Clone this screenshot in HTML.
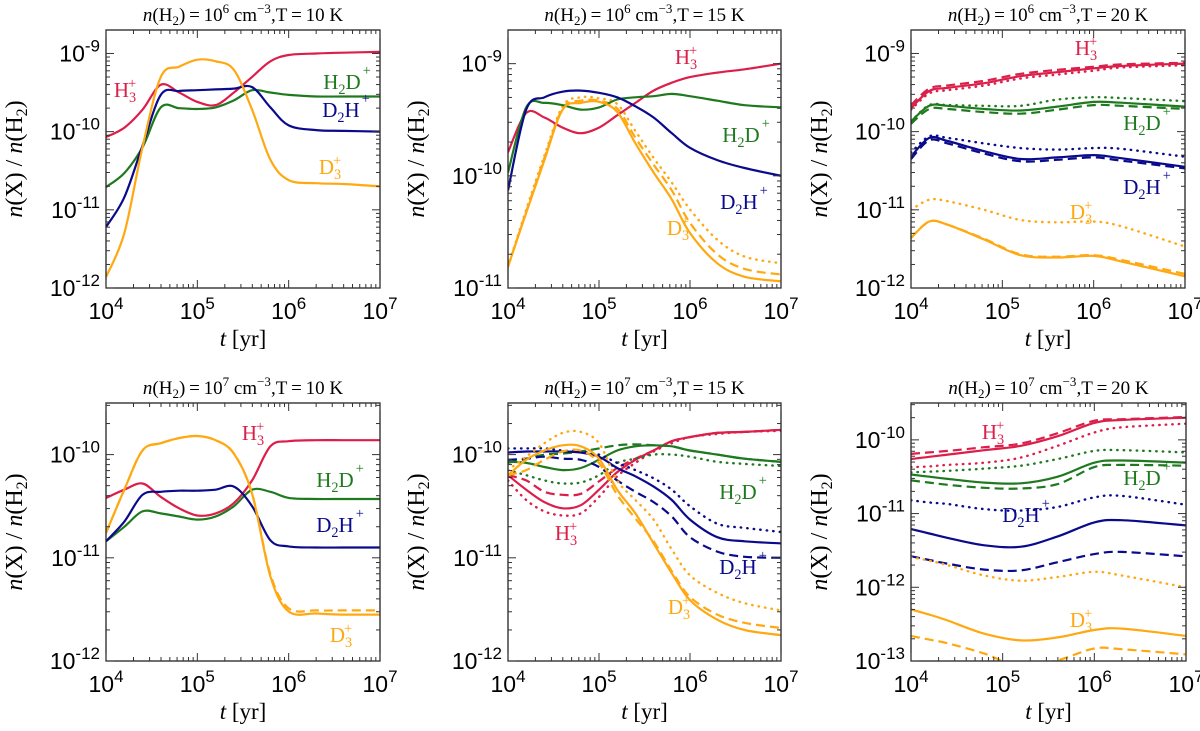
<!DOCTYPE html>
<html><head><meta charset="utf-8"><style>
html,body{margin:0;padding:0;background:#fff;}
svg{display:block;}
</style></head><body>
<svg id="chart" width="1200" height="731" viewBox="0 0 1200 731" xmlns="http://www.w3.org/2000/svg"></svg>
<script>
// ---- shared time grids (log10 t [yr]) ----
const logTFine = [4,4.2,4.4,4.6,4.8,5,5.2,5.4,5.6,5.8,6,6.3,6.6,7];
const logTCoarse = [4,4.2,4.4,4.8,5.2,5.6,6,6.3,7];

// ---- panel 1: n=1e6, T=10 K (log10 abundance) ----
const p1H3 = [-10.07,-9.95,-9.72,-9.4,-9.5,-9.62,-9.66,-9.5,-9.3,-9.1,-9.02,-9.0,-8.99,-8.98];
const p1H2D = [-10.71,-10.53,-10.2,-9.69,-9.7,-9.71,-9.69,-9.6,-9.47,-9.5,-9.53,-9.55,-9.55,-9.55];
const p1D2H = [-11.22,-10.84,-10.18,-9.53,-9.48,-9.47,-9.46,-9.45,-9.43,-9.69,-9.92,-9.98,-9.99,-10.0];
const p1D3 = [-11.86,-11.3,-10.2,-9.3,-9.17,-9.08,-9.1,-9.21,-9.72,-10.36,-10.62,-10.66,-10.67,-10.7];

// ---- panel 2: n=1e6, T=15 K ----
const p2H3 = [-9.79,-9.44,-9.48,-9.57,-9.62,-9.57,-9.46,-9.35,-9.24,-9.17,-9.12,-9.08,-9.05,-9.0];
const p2H2D = [-9.97,-9.39,-9.35,-9.37,-9.41,-9.39,-9.32,-9.3,-9.29,-9.27,-9.29,-9.33,-9.37,-9.39];
const p2D2H = [-10.13,-9.41,-9.3,-9.25,-9.24,-9.26,-9.3,-9.38,-9.48,-9.62,-9.75,-9.86,-9.93,-10.0];
const p2D3 = [-10.81,-10.33,-9.86,-9.41,-9.35,-9.34,-9.43,-9.71,-9.97,-10.21,-10.51,-10.78,-10.9,-10.94];
const p2D3Dash = [-10.81,-10.32,-9.84,-9.4,-9.33,-9.33,-9.4,-9.66,-9.9,-10.13,-10.42,-10.7,-10.83,-10.88];
const p2D3Dot = [-10.81,-10.3,-9.82,-9.38,-9.3,-9.31,-9.36,-9.6,-9.84,-10.06,-10.3,-10.57,-10.72,-10.78];

// ---- panel 3: n=1e6, T=20 K ----
const p3H3 = [-9.7,-9.48,-9.44,-9.38,-9.29,-9.24,-9.19,-9.16,-9.13];
const p3H3Dash = [-9.66,-9.45,-9.41,-9.35,-9.26,-9.21,-9.17,-9.14,-9.12];
const p3H3Dot = [-9.72,-9.51,-9.47,-9.41,-9.32,-9.27,-9.22,-9.18,-9.15];
const p3H2D = [-9.87,-9.67,-9.67,-9.71,-9.73,-9.68,-9.62,-9.63,-9.68];
const p3H2DDash = [-9.9,-9.71,-9.71,-9.75,-9.77,-9.72,-9.66,-9.67,-9.71];
const p3H2DDot = [-9.87,-9.66,-9.66,-9.67,-9.67,-9.59,-9.56,-9.57,-9.61];
const p3D2H = [-10.32,-10.08,-10.12,-10.25,-10.35,-10.33,-10.3,-10.34,-10.45];
const p3D2HDash = [-10.35,-10.11,-10.15,-10.28,-10.38,-10.36,-10.33,-10.37,-10.47];
const p3D2HDot = [-10.27,-10.06,-10.08,-10.15,-10.21,-10.23,-10.21,-10.22,-10.32];
const p3D3 = [-11.36,-11.15,-11.19,-11.38,-11.58,-11.61,-11.59,-11.66,-11.85];
const p3D3Dash = [-11.36,-11.15,-11.19,-11.37,-11.57,-11.6,-11.58,-11.64,-11.82];
const p3D3Dot = [-11.0,-10.87,-10.89,-11.0,-11.13,-11.16,-11.15,-11.21,-11.47];

// ---- panel 4: n=1e7, T=10 K ----
const p4H3 = [-10.42,-10.34,-10.28,-10.41,-10.52,-10.59,-10.57,-10.47,-10.25,-9.92,-9.87,-9.86,-9.86,-9.86];
const p4H2D = [-10.84,-10.7,-10.55,-10.57,-10.6,-10.63,-10.6,-10.5,-10.34,-10.36,-10.42,-10.43,-10.43,-10.43];
const p4D2H = [-10.84,-10.65,-10.39,-10.36,-10.35,-10.35,-10.34,-10.31,-10.5,-10.83,-10.89,-10.9,-10.9,-10.9];
const p4D3 = [-10.76,-10.34,-9.96,-9.89,-9.84,-9.82,-9.86,-9.99,-10.38,-11.18,-11.52,-11.54,-11.55,-11.55];
const p4D3Dash = [-10.76,-10.34,-9.96,-9.89,-9.84,-9.82,-9.86,-9.99,-10.38,-11.16,-11.49,-11.51,-11.51,-11.51];

// ---- panel 5: n=1e7, T=15 K ----
const p5H3 = [-10.2,-10.34,-10.46,-10.52,-10.49,-10.34,-10.17,-10.05,-9.96,-9.87,-9.83,-9.79,-9.78,-9.76];
const p5H3Dash = [-10.2,-10.25,-10.36,-10.39,-10.38,-10.26,-10.13,-10.04,-9.96,-9.87,-9.83,-9.79,-9.78,-9.76];
const p5H3Dot = [-10.25,-10.44,-10.55,-10.59,-10.57,-10.41,-10.21,-10.08,-9.97,-9.89,-9.83,-9.8,-9.78,-9.77];
const p5H2D = [-10.07,-10.08,-10.12,-10.15,-10.13,-10.05,-9.96,-9.92,-9.91,-9.92,-9.96,-10.0,-10.04,-10.07];
const p5H2DDash = [-10.08,-10.04,-10.0,-9.99,-9.97,-9.94,-9.91,-9.9,-9.91,-9.92,-9.96,-10.0,-10.04,-10.07];
const p5H2DDot = [-10.15,-10.2,-10.25,-10.28,-10.27,-10.2,-10.08,-10.04,-10.0,-10.0,-10.02,-10.07,-10.09,-10.11];
const p5D2H = [-9.98,-9.97,-9.97,-9.97,-9.98,-10.02,-10.13,-10.21,-10.31,-10.44,-10.63,-10.8,-10.84,-10.86];
const p5D2HDash = [-10.05,-10.04,-10.02,-10.04,-10.05,-10.12,-10.25,-10.36,-10.46,-10.6,-10.8,-10.94,-10.99,-11.0];
const p5D2HDot = [-9.94,-9.94,-9.94,-9.96,-9.97,-10.0,-10.08,-10.15,-10.23,-10.34,-10.5,-10.67,-10.71,-10.75];
const p5D3 = [-10.2,-10.05,-9.96,-9.91,-9.92,-10.04,-10.34,-10.57,-10.86,-11.15,-11.41,-11.6,-11.7,-11.75];
const p5D3Dash = [-10.2,-10.15,-10.05,-9.97,-9.96,-10.08,-10.39,-10.62,-10.84,-11.13,-11.38,-11.55,-11.63,-11.68];
const p5D3Dot = [-10.15,-10.02,-9.89,-9.79,-9.78,-9.89,-10.25,-10.44,-10.63,-10.92,-11.17,-11.34,-11.44,-11.51];

// ---- panel 6: n=1e7, T=20 K ----
const p6H3 = [-10.26,-10.23,-10.2,-10.14,-10.08,-9.95,-9.77,-9.73,-9.7];
const p6H3Dash = [-10.19,-10.17,-10.15,-10.1,-10.05,-9.91,-9.74,-9.72,-9.69];
const p6H3Dot = [-10.37,-10.36,-10.34,-10.31,-10.24,-10.08,-9.9,-9.83,-9.78];
const p6H2D = [-10.47,-10.5,-10.53,-10.58,-10.59,-10.5,-10.31,-10.28,-10.31];
const p6H2DDash = [-10.55,-10.58,-10.61,-10.65,-10.66,-10.6,-10.37,-10.34,-10.35];
const p6H2DDot = [-10.44,-10.43,-10.42,-10.39,-10.35,-10.26,-10.15,-10.14,-10.17];
const p6D2H = [-11.21,-11.27,-11.33,-11.43,-11.45,-11.31,-11.12,-11.09,-11.16];
const p6D2HDash = [-11.58,-11.63,-11.68,-11.76,-11.77,-11.66,-11.55,-11.52,-11.58];
const p6D2HDot = [-10.82,-10.85,-10.87,-10.94,-10.96,-10.91,-10.78,-10.76,-10.88];
const p6D3 = [-12.3,-12.37,-12.45,-12.63,-12.72,-12.68,-12.58,-12.56,-12.66];
const p6D3Dash = [-12.66,-12.71,-12.76,-12.9,-13.08,-12.99,-12.83,-12.84,-12.91];
const p6D3Dot = [-11.59,-11.64,-11.7,-11.84,-11.91,-11.86,-11.79,-11.84,-12.0];

// ---- ticks ----
const xTickExps = [4,5,6,7];
const densityExps = [6,6,6,7,7,7];
const temps = [10,15,20,10,15,20];

const COL = {H3:'#dc1e4a', H2D:'#1f7a1f', D2H:'#0a0a8c', D3:'#ffa812'};
const SVGNS = 'http://www.w3.org/2000/svg';
const svg = document.getElementById('chart');
function mk(tag, attrs, parent){
  const e = document.createElementNS(SVGNS, tag);
  for (const k in attrs) e.setAttribute(k, attrs[k]);
  (parent||svg).appendChild(e);
  return e;
}

const panels = [
  {x0:106,x1:380,y0:30,y1:288,ymin:-12,ymax:-8.7,t:logTFine,series:[
    ['h3',p1H3,'H3','s'],['h2d',p1H2D,'H2D','s'],['d2h',p1D2H,'D2H','s'],['d3',p1D3,'D3','s']],
   labels:[['H3',125,97],['H2D',347,89],['D2H',346,117],['D3',330,174]]},
  {x0:508,x1:781,y0:30,y1:288,ymin:-11,ymax:-8.7,t:logTFine,series:[
    ['d3-dot',p2D3Dot,'D3','d'],['d3-dash',p2D3Dash,'D3','a'],
    ['h3',p2H3,'H3','s'],['h2d',p2H2D,'H2D','s'],['d2h',p2D2H,'D2H','s'],['d3',p2D3,'D3','s']],
   labels:[['H3',686,64],['H2D',746,142],['D2H',744,209],['D3',678,235]]},
  {x0:911,x1:1185,y0:30,y1:288,ymin:-12,ymax:-8.7,t:logTCoarse,series:[
    ['h3-dot',p3H3Dot,'H3','d'],['h3-dash',p3H3Dash,'H3','a'],['h3',p3H3,'H3','s'],
    ['h2d-dot',p3H2DDot,'H2D','d'],['h2d-dash',p3H2DDash,'H2D','a'],['h2d',p3H2D,'H2D','s'],
    ['d2h-dot',p3D2HDot,'D2H','d'],['d2h-dash',p3D2HDash,'D2H','a'],['d2h',p3D2H,'D2H','s'],
    ['d3-dot',p3D3Dot,'D3','d'],['d3-dash',p3D3Dash,'D3','a'],['d3',p3D3,'D3','s']],
   labels:[['H3',1086,55],['H2D',1147,130],['D2H',1147,194],['D3',1081,219]]},
  {x0:106,x1:380,y0:403,y1:661,ymin:-12,ymax:-9.5,t:logTFine,series:[
    ['d3-dash',p4D3Dash,'D3','a'],
    ['h3',p4H3,'H3','s'],['h2d',p4H2D,'H2D','s'],['d2h',p4D2H,'D2H','s'],['d3',p4D3,'D3','s']],
   labels:[['H3',253,440],['H2D',340,487],['D2H',340,532],['D3',341,642]]},
  {x0:508,x1:781,y0:403,y1:661,ymin:-12,ymax:-9.5,t:logTFine,series:[
    ['h3-dot',p5H3Dot,'H3','d'],['h3-dash',p5H3Dash,'H3','a'],['h3',p5H3,'H3','s'],
    ['h2d-dot',p5H2DDot,'H2D','d'],['h2d-dash',p5H2DDash,'H2D','a'],['h2d',p5H2D,'H2D','s'],
    ['d2h-dot',p5D2HDot,'D2H','d'],['d2h-dash',p5D2HDash,'D2H','a'],['d2h',p5D2H,'D2H','s'],
    ['d3-dot',p5D3Dot,'D3','d'],['d3-dash',p5D3Dash,'D3','a'],['d3',p5D3,'D3','s']],
   labels:[['H3',566,540],['H2D',743,499],['D2H',743,574],['D3',679,614]]},
  {x0:911,x1:1186,y0:403,y1:661,ymin:-13,ymax:-9.5,t:logTCoarse,series:[
    ['h3-dot',p6H3Dot,'H3','d'],['h3-dash',p6H3Dash,'H3','a'],['h3',p6H3,'H3','s'],
    ['h2d-dot',p6H2DDot,'H2D','d'],['h2d-dash',p6H2DDash,'H2D','a'],['h2d',p6H2D,'H2D','s'],
    ['d2h-dot',p6D2HDot,'D2H','d'],['d2h-dash',p6D2HDash,'D2H','a'],['d2h',p6D2H,'D2H','s'],
    ['d3-dot',p6D3Dot,'D3','d'],['d3-dash',p6D3Dash,'D3','a'],['d3',p6D3,'D3','s']],
   labels:[['H3',993,439],['H2D',1147,485],['D2H',1026,522],['D3',1081,627]]}
];

function smoothPath(pts){
  let d = 'M'+pts[0][0].toFixed(1)+','+pts[0][1].toFixed(1);
  for (let i=0;i<pts.length-1;i++){
    const p0=pts[Math.max(0,i-1)], p1=pts[i], p2=pts[i+1], p3=pts[Math.min(pts.length-1,i+2)];
    const c1x=p1[0]+(p2[0]-p0[0])/6, c1y=p1[1]+(p2[1]-p0[1])/6;
    const c2x=p2[0]-(p3[0]-p1[0])/6, c2y=p2[1]-(p3[1]-p1[1])/6;
    d+=' C'+c1x.toFixed(1)+','+c1y.toFixed(1)+' '+c2x.toFixed(1)+','+c2y.toFixed(1)+' '+p2[0].toFixed(1)+','+p2[1].toFixed(1);
  }
  return d;
}

function addSpeciesText(g, sp, x, y, fs){
  const t = mk('text', {x:x, y:y, 'text-anchor':'middle', fill:COL[sp], 'font-family':'Liberation Serif, serif', 'font-size':fs}, g);
  
  
  const sub = (txt)=>{ const s=mk('tspan',{dy:5,'font-size':fs*0.68},t); s.textContent=txt; };
  const sup = (txt,dx)=>{ const s=mk('tspan',{dy:-14,dx:dx,'font-size':fs*0.68},t); s.textContent=txt; };
  const norm = (txt,dy)=>{ const s=mk('tspan',{dy:dy},t); s.textContent=txt; };
  if (sp==='H3'){ norm('H',0); sub('3'); sup('+',-8); }
  else if (sp==='D3'){ norm('D',0); sub('3'); sup('+',-8); }
  else if (sp==='H2D'){ norm('H',0); sub('2'); norm('D',-5); sup('+',2); }
  else { norm('D',0); sub('2'); norm('H',-5); sup('+',2); }
}

panels.forEach((P, pi)=>{
  const g = mk('g', {});
  
  
  const xs = v => P.x0 + (v-4)/3*(P.x1-P.x0);
  const ys = v => P.y1 - (v-P.ymin)/(P.ymax-P.ymin)*(P.y1-P.y0);
  const clipId = 'clip'+pi;
  const cp = mk('clipPath', {id:clipId}, g);
  mk('rect', {x:P.x0, y:P.y0, width:P.x1-P.x0, height:P.y1-P.y0}, cp);

  const sg = mk('g', {'clip-path':'url(#'+clipId+')'}, g);
  P.series.forEach(s=>{
    const pts = P.t.map((lt,i)=>[xs(lt), ys(s[1][i])]);
    const attrs = {d:smoothPath(pts), fill:'none', stroke:COL[s[2]], 'stroke-width':2.2};
    if (s[3]==='a') attrs['stroke-dasharray']='9,5';
    if (s[3]==='d'){ attrs['stroke-dasharray']='0.5,6'; attrs['stroke-linecap']='round'; attrs['stroke-width']=2.4; }
    const p = mk('path', attrs, sg);
    
    
  });

  const fr = mk('rect', {x:P.x0, y:P.y0, width:P.x1-P.x0, height:P.y1-P.y0, fill:'none', stroke:'#222', 'stroke-width':1.3}, g);
  
  

  const tk = mk('g', {stroke:'#333','stroke-width':1}, g);
  for (let d=4; d<7; d++){
    for (let m=2; m<10; m++){
      const x = xs(d + Math.log10(m));
      mk('line',{x1:x,y1:P.y1,x2:x,y2:P.y1-4},tk);
      mk('line',{x1:x,y1:P.y0,x2:x,y2:P.y0+4},tk);
    }
  }
  xTickExps.forEach(e=>{
    const x = xs(e);
    mk('line',{x1:x,y1:P.y1,x2:x,y2:P.y1-8},tk);
    mk('line',{x1:x,y1:P.y0,x2:x,y2:P.y0+8},tk);
    const t = mk('text',{x:x, y:P.y1+31, 'text-anchor':'middle','font-family':'Liberation Sans, sans-serif','font-size':23,fill:'#000'},g);
    
    
    const a = mk('tspan',{},t); a.textContent='10';
    const b = mk('tspan',{dy:-10,'font-size':17},t); b.textContent=String(e);
  });
  for (let d=Math.floor(P.ymin); d<Math.ceil(P.ymax); d++){
    for (let m=2; m<10; m++){
      const v = d + Math.log10(m);
      if (v<P.ymin || v>P.ymax) continue;
      const y = ys(v);
      mk('line',{x1:P.x0,y1:y,x2:P.x0+4,y2:y},tk);
      mk('line',{x1:P.x1,y1:y,x2:P.x1-4,y2:y},tk);
    }
  }
  for (let e=Math.ceil(P.ymin); e<=Math.floor(P.ymax); e++){
    const y = ys(e);
    mk('line',{x1:P.x0,y1:y,x2:P.x0+8,y2:y},tk);
    mk('line',{x1:P.x1,y1:y,x2:P.x1-8,y2:y},tk);
    const t = mk('text',{x:P.x0-6, y:y+8, 'text-anchor':'end','font-family':'Liberation Sans, sans-serif','font-size':23,fill:'#000'},g);
    
    
    const a = mk('tspan',{},t); a.textContent='10';
    const b = mk('tspan',{dy:-10,'font-size':17},t); b.textContent=String(e);
  }

  const cx = (P.x0+P.x1)/2;
  const tt = mk('text',{x:cx, y:P.y0-9,'text-anchor':'middle','font-family':'Liberation Serif, serif','font-size':19,fill:'#000'},g);
  
  
  const parts = [['n','i',0],['(H',null,0],['2','s',4],[')\u2009=\u200910',null,-4],[String(densityExps[pi]),'p',-8],[' cm',null,8],['\u22123','p',-8],[',T\u2009=\u2009'+temps[pi]+' K',null,8]];
  parts.forEach(p=>{
    const a = {dy:p[2]};
    if (p[1]==='i') a['font-style']='italic';
    if (p[1]==='s'||p[1]==='p') a['font-size']=13;
    const s = mk('tspan',a,tt); s.textContent=p[0];
  });

  const xl = mk('text',{x:cx, y:P.y1+58,'text-anchor':'middle','font-family':'Liberation Serif, serif','font-size':23,fill:'#000'},g);
  
  
  const x1s = mk('tspan',{'font-style':'italic'},xl); x1s.textContent='t';
  const x2s = mk('tspan',{},xl); x2s.textContent='  [yr]';

  const ycx = P.x0-84, ycy=(P.y0+P.y1)/2;
  const yl = mk('text',{x:ycx, y:ycy,'text-anchor':'middle','font-family':'Liberation Serif, serif','font-size':24,fill:'#000',transform:'rotate(-90 '+ycx+' '+ycy+')'},g);
  
  
  [['n',1,0],['(X)  /  ',0,0],['n',1,0],['(H',0,0],['2',2,5],[')',0,-5]].forEach(p=>{
    const a={dy:p[2]};
    if (p[1]===1) a['font-style']='italic';
    if (p[1]===2) a['font-size']=16;
    const s=mk('tspan',a,yl); s.textContent=p[0];
  });

  P.labels.forEach(l=> addSpeciesText(g, l[0], l[1], l[2], 21));
});
</script>
</body></html>
